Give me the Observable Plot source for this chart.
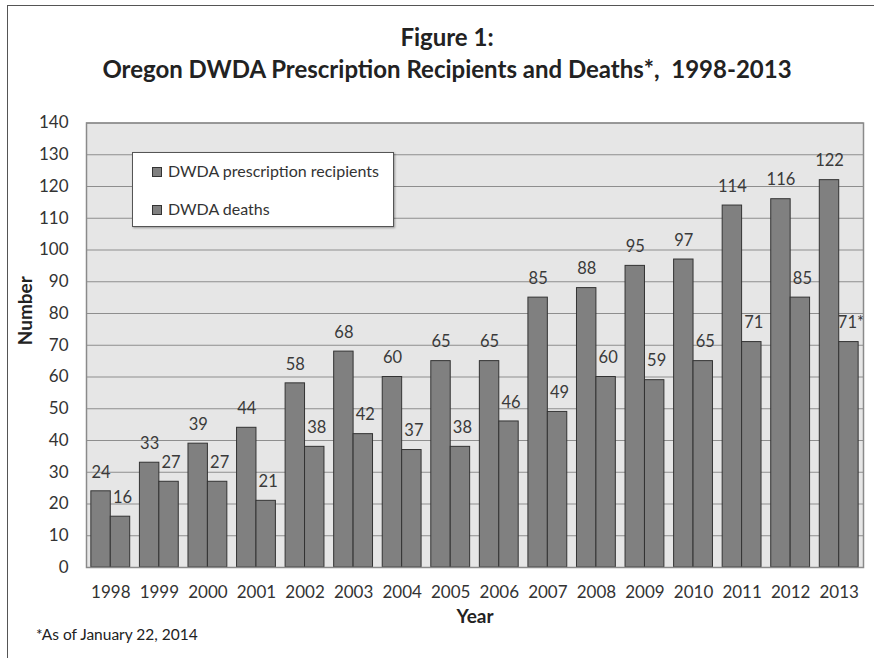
<!DOCTYPE html>
<html><head><meta charset="utf-8">
<script src="https://cdn.jsdelivr.net/npm/d3@7"></script>
<script src="https://cdn.jsdelivr.net/npm/@observablehq/plot@0.6"></script>
<style>
body{margin:0;background:#fff;font-family:Lato, "Open Sans", sans-serif;width:874px;height:658px;overflow:hidden;position:relative;}
#frame{position:absolute;left:7px;top:5px;width:900px;height:700px;border-left:1.5px solid #555;border-top:1.5px solid #555;}
#title{position:absolute;left:20px;top:21px;width:854px;text-align:center;font-weight:bold;font-size:24px;line-height:32px;color:#222;}
#chart{position:absolute;left:0;top:100px;}
#legend{position:absolute;left:132px;top:152px;width:262px;height:75px;background:#fff;border:1px solid #555;box-sizing:border-box;box-shadow:1px 1px 2px rgba(0,0,0,.35);font-size:16px;color:#333;}
.entry{position:absolute;left:19px;height:20px;line-height:20px;white-space:nowrap;}
.sw{display:inline-block;width:8px;height:8px;background:#808080;border:1px solid #333;margin-right:6px;vertical-align:0px;}
#note{position:absolute;left:36px;top:625px;font-size:15.5px;color:#222;}
</style>
</head><body>
<div id="frame"></div>
<div id="title">Figure 1:<br>Oregon DWDA Prescription Recipients and Deaths*,&nbsp; 1998-2013</div>
<div id="chart"></div>
<div id="legend"></div>
<div id="note">*As of January 22, 2014</div>
<script>
const years = ["1998","1999","2000","2001","2002","2003","2004","2005","2006","2007","2008","2009","2010","2011","2012","2013"];
const recipients = [24,33,39,44,58,68,60,65,65,85,88,95,97,114,116,122];
const deaths = [16,27,27,21,38,42,37,38,46,49,60,59,65,71,85,71];
const recipientLabels = recipients.map(String);
const deathLabels = ["16","27","27","21","38","42","37","38","46","49","60","59","65","71","85","71*"];
const seriesNames = ["DWDA prescription recipients","DWDA deaths"];
const yTicks = [0,10,20,30,40,50,60,70,80,90,100,110,120,130,140];

const W = 874, H = 530, mL = 86, mR = 11, mT = 22.5, mB = 63;
const padIn = 0.2, padOut = 0.1;
const bw = d3.scaleBand().domain(years).range([mL, W - mR]).paddingInner(padIn).paddingOuter(padOut).bandwidth();
const half = bw / 2;

const recData = years.map((y, i) => ({year: y, value: recipients[i], label: recipientLabels[i]}));
const deathData = years.map((y, i) => ({year: y, value: deaths[i], label: deathLabels[i]}));

const chart = Plot.plot({
  width: W, height: H,
  marginLeft: mL, marginRight: mR, marginTop: mT, marginBottom: mB,
  style: {fontFamily: "Lato, 'Open Sans', sans-serif", color: "#333", background: "transparent"},
  x: {type: "band", domain: years, paddingInner: padIn, paddingOuter: padOut, round: false, label: null},
  y: {domain: [0, 140], label: null},
  marks: [
    Plot.frame({fill: "#e6e6e6", stroke: null}),
    Plot.gridY(yTicks, {stroke: "#8e8e8e", strokeOpacity: 1, strokeWidth: 1}),
    Plot.barY(recData, {x: "year", y: "value", fill: "#808080", stroke: "#333", strokeWidth: 1, insetRight: half}),
    Plot.barY(deathData, {x: "year", y: "value", fill: "#808080", stroke: "#333", strokeWidth: 1, insetLeft: half}),
    Plot.text(recData, {x: "year", y: "value", text: "label", dx: -half / 2, dy: -19, fontSize: 16.5, fill: "#3a3a3a"}),
    Plot.text(deathData, {x: "year", y: "value", text: "label", dx: half / 2 + 2, dy: -19, fontSize: 16.5, fill: "#3a3a3a"}),
    Plot.frame({stroke: "#8a8a8a", strokeWidth: 1.5}),
    Plot.axisX({tickSize: 0, tickPadding: 18, fontSize: 17, label: null, fill: "#333"}),
    Plot.axisY({ticks: yTicks, tickSize: 0, tickPadding: 18, fontSize: 17, label: null, fill: "#333"}),
    Plot.text(["Year"], {text: d => d, frameAnchor: "bottom", dy: 55, fontSize: 19, fontWeight: "bold", fill: "#222"}),
    Plot.text(["Number"], {text: d => d, frameAnchor: "left", dx: -61, rotate: -90, fontSize: 19, fontWeight: "bold", fill: "#222"})
  ]
});
document.getElementById("chart").appendChild(chart);

const legend = document.getElementById("legend");
seriesNames.forEach((name, i) => {
  const e = document.createElement("div");
  e.className = "entry";
  e.style.top = (8 + i * 38) + "px";
  e.innerHTML = '<span class="sw"></span>' + name;
  legend.appendChild(e);
});
</script>
</body></html>
